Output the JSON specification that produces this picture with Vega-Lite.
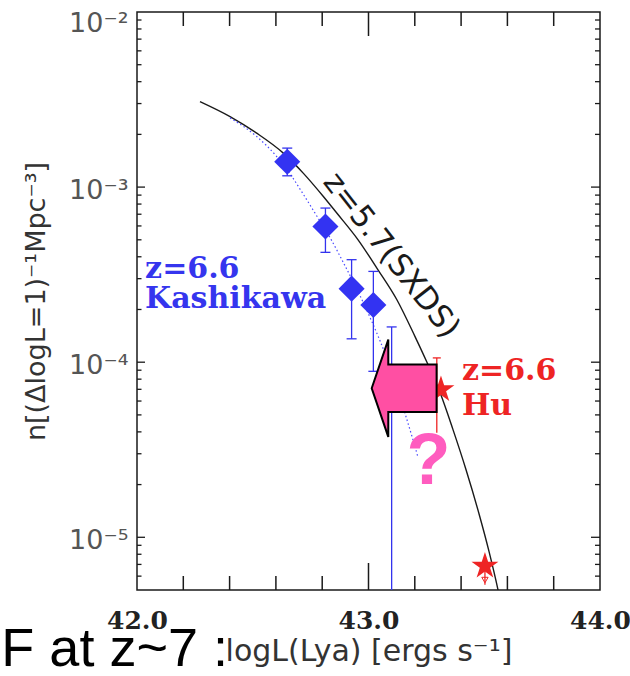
{
  "$schema": "https://vega.github.io/schema/vega-lite/v6.json",
  "width": 463,
  "height": 578,
  "autosize": {"type": "none"},
  "padding": {"left": 137, "top": 12, "right": 30, "bottom": 86},
  "background": "#ffffff",
  "config": {"view": {"stroke": "#1a1a1a", "strokeWidth": 1.5}, "axis": {"domain": false, "grid": false}},
  "datasets": {
    "sxds": [
      {"x": 42.272, "y": 0.003078}, {"x": 42.402, "y": 0.002527}, {"x": 42.517, "y": 0.002032},
      {"x": 42.632, "y": 0.001563}, {"x": 42.718, "y": 0.001202}, {"x": 42.805, "y": 0.000884},
      {"x": 42.863, "y": 0.000711}, {"x": 42.955, "y": 0.0005}, {"x": 43.041, "y": 0.000337},
      {"x": 43.122, "y": 0.000228}, {"x": 43.201, "y": 0.00014}, {"x": 43.253, "y": 0.0000995},
      {"x": 43.309, "y": 0.0000671}, {"x": 43.365, "y": 0.0000412}, {"x": 43.421, "y": 0.0000244},
      {"x": 43.477, "y": 0.00001368}, {"x": 43.5205, "y": 0.00000831}, {"x": 43.559, "y": 0.00000504},
      {"x": 43.568, "y": 0.00000442}
    ],
    "kfit": [
      {"x": 42.402, "y": 0.002485}, {"x": 42.517, "y": 0.001944}, {"x": 42.6035, "y": 0.001495},
      {"x": 42.661, "y": 0.001191}, {"x": 42.717, "y": 0.000916}, {"x": 42.776, "y": 0.000686},
      {"x": 42.834, "y": 0.000514}, {"x": 42.894, "y": 0.000365}, {"x": 42.955, "y": 0.000253},
      {"x": 43.015, "y": 0.00017}, {"x": 43.076, "y": 0.000108}, {"x": 43.136, "y": 0.0000628},
      {"x": 43.188, "y": 0.0000376}, {"x": 43.214, "y": 0.0000286}
    ],
    "kash": [
      {"x": 42.649, "y": 0.001394, "hi": 0.00167, "lo": 0.00116},
      {"x": 42.814, "y": 0.000596, "hi": 0.000759, "lo": 0.000424},
      {"x": 42.927, "y": 0.000263, "hi": 0.000385, "lo": 0.000136},
      {"x": 43.021, "y": 0.000212, "hi": 0.00033, "lo": 0.0000887},
      {"x": 43.1, "y": 0.0000716, "hi": 0.000159, "lo": 0.000005}
    ],
    "hu": [
      {"x": 43.313, "y": 0.0000698},
      {"x": 43.503, "y": 0.00000685}
    ],
    "huerr": [
      {"x": 43.295, "hi": 0.0001058, "lo": 0.0000395},
      {"x": 43.503, "hi": 0.00000685, "lo": 0.00000535}
    ],
    "hulim": [{"x": 43.503, "y": 0.0000057}],
    "xminor": [{"x": 42.2}, {"x": 42.4}, {"x": 42.6}, {"x": 42.8}, {"x": 43.2}, {"x": 43.4}, {"x": 43.6}, {"x": 43.8}],
    "xmajor": [{"x": 43}],
    "yminor": [
      {"y": 0.000006}, {"y": 0.000007}, {"y": 0.000008}, {"y": 0.000009},
      {"y": 0.00002}, {"y": 0.00003}, {"y": 0.00004}, {"y": 0.00005}, {"y": 0.00006}, {"y": 0.00007}, {"y": 0.00008}, {"y": 0.00009},
      {"y": 0.0002}, {"y": 0.0003}, {"y": 0.0004}, {"y": 0.0005}, {"y": 0.0006}, {"y": 0.0007}, {"y": 0.0008}, {"y": 0.0009},
      {"y": 0.002}, {"y": 0.003}, {"y": 0.004}, {"y": 0.005}, {"y": 0.006}, {"y": 0.007}, {"y": 0.008}, {"y": 0.009}
    ],
    "ymajor": [{"y": 0.00001}, {"y": 0.0001}, {"y": 0.001}],
    "bluetext": [
      {"x": 42.035, "y": 0.0003026, "t": "z=6.6"},
      {"x": 42.035, "y": 0.000204, "t": "Kashikawa"}
    ],
    "redtext": [
      {"x": 43.404, "y": 0.0000796, "t": "z=6.6"},
      {"x": 43.404, "y": 0.0000502, "t": "Hu"}
    ],
    "curvetext": [{"x": 43.097, "y": 0.000406, "t": "z=5.7(SXDS)"}],
    "arrow": [{"x": 43.154, "y": 0.000071}],
    "qmark": [{"x": 43.259, "y": 0.00002003, "t": "?"}],
    "overlay": [{"x": 42.393, "y": 0.00000184, "t": "LF at z~7 :"}]
  },
  "layer": [
    {
      "data": {"name": "sxds"},
      "mark": {"type": "line", "color": "#1a1a1a", "strokeWidth": 1.4, "interpolate": "monotone", "clip": true},
      "encoding": {
        "x": {
          "field": "x", "type": "quantitative",
          "scale": {"domain": [42, 44], "nice": false, "zero": false},
          "axis": {
            "orient": "bottom",
            "values": [42, 43, 44],
            "ticks": false, "tickSize": 0,
            "format": ".1f",
            "labelFont": "DejaVu Serif", "labelFontWeight": "bold", "labelFontSize": 25, "labelColor": "#222222",
            "labelBaseline": "top", "labelPadding": 18, "labelOverlap": false, "labelFlush": false,
            "title": "logL(Lya) [ergs s⁻¹]", "titleFont": "DejaVu Sans", "titleFontSize": 30,
            "titleFontWeight": "normal", "titleColor": "#333333", "titlePadding": 3
          }
        },
        "y": {
          "field": "y", "type": "quantitative",
          "scale": {"type": "log", "domain": [0.000005, 0.01], "nice": false},
          "axis": {
            "orient": "left",
            "values": [0.00001, 0.0001, 0.001, 0.01],
            "ticks": false, "tickSize": 0,
            "labelExpr": "datum.value > 0.0095 ? '10⁻²' : datum.value > 0.00095 ? '10⁻³' : datum.value > 0.000095 ? '10⁻⁴' : '10⁻⁵'",
            "labelFont": "DejaVu Sans", "labelFontSize": 27, "labelColor": "#555555",
            "labelPadding": 9, "labelOverlap": false, "labelFlush": false, "labelBaseline": "middle",
            "labelOffset": {"condition": {"test": "datum.value > 0.0095", "value": 11}, "value": 3},
            "title": "n[(ΔlogL=1)⁻¹Mpc⁻³]", "titleFont": "DejaVu Sans", "titleFontSize": 27,
            "titleFontWeight": "normal", "titleColor": "#333333", "titlePadding": 18
          }
        }
      }
    },
    {
      "data": {"name": "xminor"},
      "mark": {"type": "rule", "color": "#1a1a1a", "strokeWidth": 1.5, "y2Offset": -14},
      "encoding": {
        "x": {"field": "x", "type": "quantitative"},
        "y": {"datum": 0.000005, "type": "quantitative"},
        "y2": {"datum": 0.000005}
      }
    },
    {
      "data": {"name": "xmajor"},
      "mark": {"type": "rule", "color": "#1a1a1a", "strokeWidth": 1.5, "y2Offset": -27},
      "encoding": {
        "x": {"field": "x", "type": "quantitative"},
        "y": {"datum": 0.000005, "type": "quantitative"},
        "y2": {"datum": 0.000005}
      }
    },
    {
      "data": {"name": "xminor"},
      "mark": {"type": "rule", "color": "#1a1a1a", "strokeWidth": 1.5, "y2Offset": 14},
      "encoding": {
        "x": {"field": "x", "type": "quantitative"},
        "y": {"datum": 0.01, "type": "quantitative"},
        "y2": {"datum": 0.01}
      }
    },
    {
      "data": {"name": "xmajor"},
      "mark": {"type": "rule", "color": "#1a1a1a", "strokeWidth": 1.5, "y2Offset": 24},
      "encoding": {
        "x": {"field": "x", "type": "quantitative"},
        "y": {"datum": 0.01, "type": "quantitative"},
        "y2": {"datum": 0.01}
      }
    },
    {
      "data": {"name": "yminor"},
      "mark": {"type": "rule", "color": "#1a1a1a", "strokeWidth": 1.3, "x2Offset": 4.5},
      "encoding": {
        "y": {"field": "y", "type": "quantitative"},
        "x": {"datum": 42, "type": "quantitative"},
        "x2": {"datum": 42}
      }
    },
    {
      "data": {"name": "ymajor"},
      "mark": {"type": "rule", "color": "#1a1a1a", "strokeWidth": 1.3, "x2Offset": 8},
      "encoding": {
        "y": {"field": "y", "type": "quantitative"},
        "x": {"datum": 42, "type": "quantitative"},
        "x2": {"datum": 42}
      }
    },
    {
      "data": {"name": "yminor"},
      "mark": {"type": "rule", "color": "#1a1a1a", "strokeWidth": 1.3, "x2Offset": -5},
      "encoding": {
        "y": {"field": "y", "type": "quantitative"},
        "x": {"datum": 44, "type": "quantitative"},
        "x2": {"datum": 44}
      }
    },
    {
      "data": {"name": "ymajor"},
      "mark": {"type": "rule", "color": "#1a1a1a", "strokeWidth": 1.3, "x2Offset": -9},
      "encoding": {
        "y": {"field": "y", "type": "quantitative"},
        "x": {"datum": 44, "type": "quantitative"},
        "x2": {"datum": 44}
      }
    },
    {
      "data": {"name": "kfit"},
      "mark": {"type": "line", "color": "#4b4bff", "strokeWidth": 1.2, "strokeDash": [1.5, 2.5], "interpolate": "monotone"},
      "encoding": {
        "x": {"field": "x", "type": "quantitative"},
        "y": {"field": "y", "type": "quantitative"}
      }
    },
    {
      "data": {"name": "kash"},
      "mark": {"type": "rule", "color": "#3333ee", "strokeWidth": 1.3},
      "encoding": {
        "x": {"field": "x", "type": "quantitative"},
        "y": {"field": "lo", "type": "quantitative"},
        "y2": {"field": "hi"}
      }
    },
    {
      "data": {"name": "kash"},
      "mark": {"type": "tick", "orient": "horizontal", "size": 10, "thickness": 1.3, "color": "#3333ee", "opacity": 1},
      "encoding": {
        "x": {"field": "x", "type": "quantitative"},
        "y": {"field": "hi", "type": "quantitative"}
      }
    },
    {
      "data": {"name": "kash"},
      "transform": [{"filter": "datum.lo > 0.000006"}],
      "mark": {"type": "tick", "orient": "horizontal", "size": 10, "thickness": 1.3, "color": "#3333ee", "opacity": 1},
      "encoding": {
        "x": {"field": "x", "type": "quantitative"},
        "y": {"field": "lo", "type": "quantitative"}
      }
    },
    {
      "data": {"name": "kash"},
      "mark": {"type": "point", "shape": "diamond", "filled": true, "color": "#3333f2", "size": 680, "opacity": 1},
      "encoding": {
        "x": {"field": "x", "type": "quantitative"},
        "y": {"field": "y", "type": "quantitative"}
      }
    },
    {
      "data": {"name": "huerr"},
      "mark": {"type": "rule", "color": "#ee2424", "strokeWidth": 1.3},
      "encoding": {
        "x": {"field": "x", "type": "quantitative"},
        "y": {"field": "lo", "type": "quantitative"},
        "y2": {"field": "hi"}
      }
    },
    {
      "data": {"name": "huerr"},
      "transform": [{"filter": "datum.hi > 0.00001"}],
      "mark": {"type": "tick", "orient": "horizontal", "size": 8, "thickness": 1.3, "color": "#ee2424", "opacity": 1},
      "encoding": {
        "x": {"field": "x", "type": "quantitative"},
        "y": {"field": "hi", "type": "quantitative"}
      }
    },
    {
      "data": {"name": "hulim"},
      "mark": {"type": "point", "shape": "triangle-down", "filled": false, "color": "#ee2424", "size": 40, "strokeWidth": 1, "opacity": 1},
      "encoding": {
        "x": {"field": "x", "type": "quantitative"},
        "y": {"field": "y", "type": "quantitative"}
      }
    },
    {
      "data": {"name": "hu"},
      "mark": {"type": "point", "shape": "M0,-1L0.2245,-0.309L0.951,-0.309L0.3633,0.118L0.5878,0.809L0,0.382L-0.5878,0.809L-0.3633,0.118L-0.951,-0.309L-0.2245,-0.309Z", "filled": true, "color": "#ee2424", "size": 800, "opacity": 1},
      "encoding": {
        "x": {"field": "x", "type": "quantitative"},
        "y": {"field": "y", "type": "quantitative"}
      }
    },
    {
      "data": {"name": "bluetext"},
      "mark": {"type": "text", "font": "DejaVu Serif", "fontWeight": "bold", "fontSize": 30, "color": "#3535ee", "align": "left", "baseline": "alphabetic"},
      "encoding": {
        "x": {"field": "x", "type": "quantitative"},
        "y": {"field": "y", "type": "quantitative"},
        "text": {"field": "t"}
      }
    },
    {
      "data": {"name": "redtext"},
      "mark": {"type": "text", "font": "DejaVu Serif", "fontWeight": "bold", "fontSize": 30, "color": "#ee2424", "align": "left", "baseline": "alphabetic"},
      "encoding": {
        "x": {"field": "x", "type": "quantitative"},
        "y": {"field": "y", "type": "quantitative"},
        "text": {"field": "t"}
      }
    },
    {
      "data": {"name": "curvetext"},
      "mark": {"type": "text", "font": "DejaVu Sans", "fontSize": 31, "color": "#1a1a1a", "align": "center", "baseline": "middle", "angle": 52},
      "encoding": {
        "x": {"field": "x", "type": "quantitative"},
        "y": {"field": "y", "type": "quantitative"},
        "text": {"field": "t"}
      }
    },
    {
      "data": {"name": "arrow"},
      "mark": {"type": "point", "shape": "M-0.667,0L-0.326,-1L-0.326,-0.49L0.667,-0.49L0.667,0.49L-0.326,0.49L-0.326,1Z", "filled": true, "fill": "#ff4fa3", "stroke": "#000000", "strokeWidth": 2, "size": 9467, "opacity": 1, "fillOpacity": 1},
      "encoding": {
        "x": {"field": "x", "type": "quantitative"},
        "y": {"field": "y", "type": "quantitative"}
      }
    },
    {
      "data": {"name": "qmark"},
      "mark": {"type": "text", "font": "Liberation Sans", "fontWeight": "bold", "fontSize": 72, "color": "#ff5cbf", "align": "center", "baseline": "alphabetic"},
      "encoding": {
        "x": {"field": "x", "type": "quantitative"},
        "y": {"field": "y", "type": "quantitative"},
        "text": {"field": "t"}
      }
    },
    {
      "data": {"name": "overlay"},
      "mark": {"type": "text", "font": "Liberation Sans", "fontSize": 54, "color": "#000000", "align": "right", "baseline": "alphabetic"},
      "encoding": {
        "x": {"field": "x", "type": "quantitative"},
        "y": {"field": "y", "type": "quantitative"},
        "text": {"field": "t"}
      }
    }
  ]
}
